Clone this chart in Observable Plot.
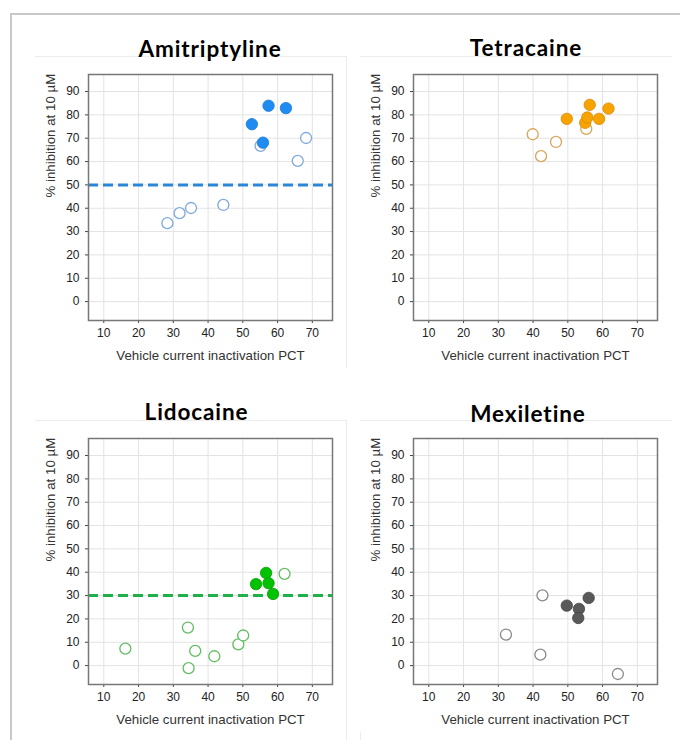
<!DOCTYPE html>
<html>
<head>
<meta charset="utf-8">
<script src="https://cdn.jsdelivr.net/npm/d3@7"></script>
<script src="https://cdn.jsdelivr.net/npm/@observablehq/plot@0.6"></script>
<style>
  html, body { margin: 0; padding: 0; background: #fff; }
  #page { position: relative; width: 680px; height: 740px; overflow: hidden; background: #fff; }
  #outer { position: absolute; left: 10px; top: 13px; width: 760px; height: 800px;
           border-left: 2px solid #c8c8c8; border-top: 2px solid #c8c8c8; }
  .panel { position: absolute; width: 311px; }
  .panel.left { border-top: 1px solid #ececec; border-right: 1px solid #ececec; }
  .panel.right { border-top: 1px solid #ececec; border-left: 1px solid #ececec; }
  .chart { position: absolute; }
  .title { position: absolute; font-family: Lato, "Open Sans", sans-serif; font-weight: 700;
           font-size: 22.5px; letter-spacing: 0.9px; color: #000; white-space: nowrap;
           transform: translateX(-50%); line-height: 1; }
</style>
</head>
<body>
<div id="page">
  <div id="outer"></div>
</div>
<script>
// ---- data ----
const drugNames = ["Amitriptyline", "Tetracaine", "Lidocaine", "Mexiletine"];
const xLabel = "Vehicle current inactivation PCT";
const yLabel = "% inhibition at 10 µM";
const xTicks = [10, 20, 30, 40, 50, 60, 70];
const yTicks = [0, 10, 20, 30, 40, 50, 60, 70, 80, 90];

// Amitriptyline
const amiOpenX = [28.3, 31.8, 35.1, 44.4, 55.1, 65.8, 68.2];
const amiOpenY = [33.6, 37.9, 40.1, 41.4, 66.7, 60.3, 70.1];
const amiFillX = [52.6, 57.4, 62.4, 55.8];
const amiFillY = [76.0, 83.9, 82.9, 68.1];
const amiThreshold = 50;

// Tetracaine
const tetOpenX = [39.9, 42.3, 46.6, 55.3];
const tetOpenY = [71.7, 62.3, 68.4, 74.0];
const tetFillX = [49.7, 55.0, 55.6, 56.3, 59.0, 61.7];
const tetFillY = [78.3, 76.6, 78.9, 84.3, 78.3, 82.7];

// Lidocaine
const lidOpenX = [16.2, 34.2, 34.4, 36.3, 41.8, 48.7, 50.1, 62.0];
const lidOpenY = [7.3, 16.3, -1.1, 6.3, 4.0, 9.1, 12.9, 39.3];
const lidFillX = [53.8, 56.7, 57.4, 58.7];
const lidFillY = [34.9, 39.7, 35.3, 30.7];
const lidThreshold = 30;

// Mexiletine
const mexOpenX = [42.7, 32.2, 42.1, 64.4];
const mexOpenY = [30.1, 13.3, 4.7, -3.6];
const mexFillX = [49.7, 53.2, 53.0, 56.0];
const mexFillY = [25.7, 24.3, 20.4, 29.0];

// ---- panel configs ----
const panels = [
  { name: drugNames[0], left: 35, top: 56, side: "left", titleX: 210, titleTop: 38.3,
    openX: amiOpenX, openY: amiOpenY, fillX: amiFillX, fillY: amiFillY, threshold: amiThreshold,
    openColor: "#7fa8dc", fillColor: "#1f8cf2", fillStroke: "#1a78d6", lineColor: "#2a86d6" },
  { name: drugNames[1], left: 360, top: 56, side: "right", titleX: 526, titleTop: 36.8,
    openX: tetOpenX, openY: tetOpenY, fillX: tetFillX, fillY: tetFillY, threshold: null,
    openColor: "#d9a45c", fillColor: "#f7a300", fillStroke: "#d98a00", lineColor: null },
  { name: drugNames[2], left: 35, top: 420, side: "left", titleX: 196.5, titleTop: 401,
    openX: lidOpenX, openY: lidOpenY, fillX: lidFillX, fillY: lidFillY, threshold: lidThreshold,
    openColor: "#62bd62", fillColor: "#00c200", fillStroke: "#009e00", lineColor: "#1fb04a" },
  { name: drugNames[3], left: 360, top: 420, side: "right", titleX: 528, titleTop: 403,
    openX: mexOpenX, openY: mexOpenY, fillX: mexFillX, fillY: mexFillY, threshold: null,
    openColor: "#8a8a8a", fillColor: "#595959", fillStroke: "#444444", lineColor: null }
];

function makePlot(p) {
  const open = p.openX.map((x, i) => ({ x, y: p.openY[i] }));
  const filled = p.fillX.map((x, i) => ({ x, y: p.fillY[i] }));
  const marks = [
    Plot.gridX(xTicks, { stroke: "#e3e3e3", strokeOpacity: 1 }),
    Plot.gridY(yTicks, { stroke: "#e3e3e3", strokeOpacity: 1 }),
    Plot.axisX(xTicks, { tickSize: 3, tickPadding: 5, label: null, stroke: "#444", fill: "#222", fontSize: 12 }),
    Plot.axisY(yTicks, { tickSize: 3, tickPadding: 6, label: null, stroke: "#444", fill: "#222", fontSize: 12 }),
    Plot.text([xLabel], { text: d => d, frameAnchor: "bottom", dy: 39, fill: "#333", fontSize: 13.3 }),
    Plot.text([yLabel], { text: d => d, frameAnchor: "left", dx: -38, rotate: -90, fill: "#333", fontSize: 13.3 })
  ];
  if (p.threshold != null) {
    marks.push(Plot.ruleY([p.threshold], { stroke: p.lineColor, strokeWidth: 3, strokeDasharray: "10,5" }));
  }
  marks.push(Plot.dot(open, { x: "x", y: "y", r: 5.5, stroke: p.openColor, strokeWidth: 1.3, fill: "white" }));
  marks.push(Plot.dot(filled, { x: "x", y: "y", r: 5.7, fill: p.fillColor, stroke: p.fillStroke, strokeWidth: 0.8 }));
  marks.push(Plot.frame({ stroke: "#777", strokeWidth: 1.5 }));
  return Plot.plot({
    width: 311, height: 311,
    marginLeft: 53, marginRight: 14, marginTop: 17, marginBottom: 48,
    x: { domain: [5.6, 75.8] },
    y: { domain: [-8.1, 97.3] },
    style: { fontFamily: "'Liberation Sans', Arial, sans-serif", fontSize: "12px", color: "#222", background: "white" },
    marks
  });
}

const page = document.getElementById("page");
for (const p of panels) {
  const box = document.createElement("div");
  box.className = "panel " + p.side;
  box.style.left = p.left + "px";
  box.style.top = p.top + "px";
  box.style.height = (p.top > 300 ? 400 : 311) + "px";
  page.appendChild(box);

  const chart = document.createElement("div");
  chart.className = "chart";
  chart.style.left = p.left + "px";
  chart.style.top = (p.top + 1) + "px";
  chart.appendChild(makePlot(p));
  page.appendChild(chart);

  const t = document.createElement("div");
  t.className = "title";
  t.textContent = p.name;
  t.style.left = p.titleX + "px";
  t.style.top = p.titleTop + "px";
  page.appendChild(t);
}
</script>
</body>
</html>
